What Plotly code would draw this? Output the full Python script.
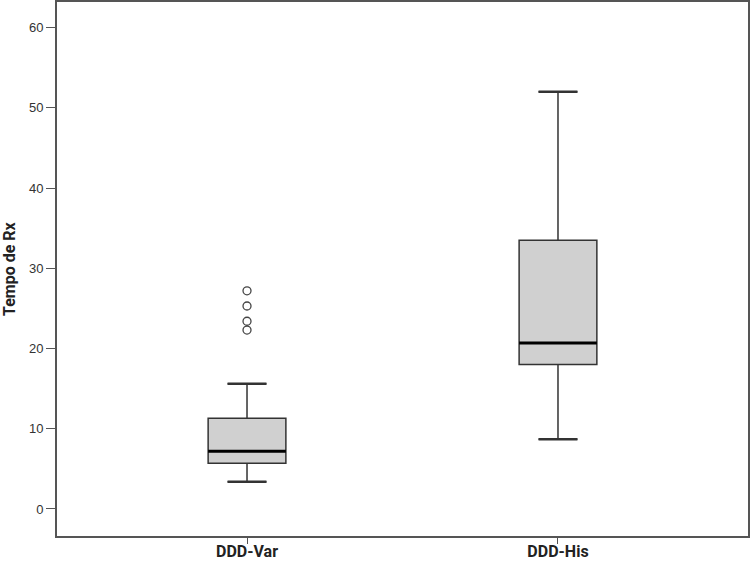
import plotly.graph_objects as go

# Valeurs (Tempo de Rx)
categories = ["DDD-Var", "DDD-His"]
lower_fence = [3.4, 8.7]
q1 = [5.7, 18.0]
median = [7.2, 20.7]
q3 = [11.3, 33.5]
upper_fence = [15.6, 52.0]
outliers_var = [27.2, 25.3, 23.4, 22.3]

BOX_W = 0.25
CAP_W = 0.125
LINE = "#333333"
FILL = "#d0d0d0"
NARROW = "Liberation Sans Narrow, Arial Narrow, Roboto, sans-serif"

fig = go.Figure()
for i, cat in enumerate(categories):
    fig.add_trace(go.Box(
        x=[i], name=cat,
        q1=[q1[i]], median=[median[i]], q3=[q3[i]],
        lowerfence=[lower_fence[i]], upperfence=[upper_fence[i]],
        width=BOX_W, whiskerwidth=0.5,
        fillcolor=FILL, line=dict(color=LINE, width=1.5),
        boxpoints=False, showlegend=False, hoverinfo="skip",
    ))
    # médiane épaisse et moustaches appuyées façon SPSS
    fig.add_trace(go.Scatter(
        x=[i - BOX_W / 2, i + BOX_W / 2], y=[median[i]] * 2,
        mode="lines", line=dict(color="#000000", width=3),
        showlegend=False, hoverinfo="skip",
    ))
    for fence in (lower_fence[i], upper_fence[i]):
        fig.add_trace(go.Scatter(
            x=[i - CAP_W / 2, i + CAP_W / 2], y=[fence] * 2,
            mode="lines", line=dict(color=LINE, width=2.5),
            showlegend=False, hoverinfo="skip",
        ))

fig.add_trace(go.Scatter(
    x=[0] * len(outliers_var), y=outliers_var,
    mode="markers",
    marker=dict(symbol="circle-open", size=8, color="#444444", line=dict(width=1.3)),
    showlegend=False, hoverinfo="skip",
))

fig.update_layout(
    width=750, height=565,
    paper_bgcolor="white", plot_bgcolor="white",
    margin=dict(l=57, r=2, t=2, b=29),
    font=dict(family="Liberation Sans, Arial, sans-serif", color="#333333"),
    xaxis=dict(
        range=[-0.611, 1.611], tickmode="array", tickvals=[0, 1], ticktext=categories,
        tickfont=dict(family=NARROW, size=16, color="#222222", weight="bold"),
        showline=True, linecolor="#555555", linewidth=2, mirror=True,
        ticks="outside", ticklen=6, tickcolor="#555555", ticklabelstandoff=-6,
        showgrid=False, zeroline=False, automargin=False,
    ),
    yaxis=dict(
        range=[-3.37, 63.2], tickvals=[0, 10, 20, 30, 40, 50, 60],
        tickfont=dict(size=13, color="#333333"),
        showline=True, linecolor="#555555", linewidth=2, mirror=True,
        ticks="outside", ticklen=9, tickcolor="#555555",
        showgrid=False, zeroline=False, automargin=False,
    ),
    annotations=[dict(
        text="Tempo de Rx", textangle=-90, showarrow=False,
        xref="paper", yref="paper", x=0, y=0.5, xshift=-48, xanchor="center",
        font=dict(family=NARROW, size=16, color="#222222", weight="bold"),
    )],
)

fig.write_html("out.html", config={"displayModeBar": False},
               post_script="document.body.style.margin='0';")
